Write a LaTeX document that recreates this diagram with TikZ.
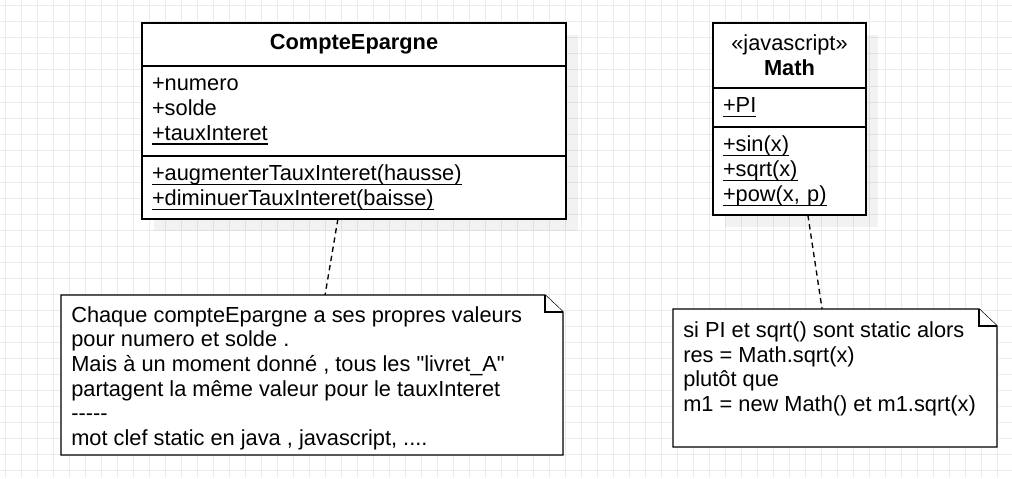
\documentclass[tikz,border=0pt]{standalone}
\usepackage{fontspec}
\newfontfamily\umlfont{Liberation Sans}
\usepackage{xcolor}
\usetikzlibrary{positioning,calc,backgrounds}
\newsavebox{\statbox}
\newcommand{\stat}[1]{\leavevmode\sbox{\statbox}{#1}\rlap{\rule[-3.4pt]{\wd\statbox}{1pt}}\usebox{\statbox}}
\definecolor{gridgray}{HTML}{EBEBEB}
\tikzset{
  umltxt/.style={font=\umlfont\fontsize{16.35pt}{18.75pt}\selectfont},
  classpart/.style={draw=black, line width=1pt, fill=white, umltxt, align=left, inner xsep=7.5pt, inner ysep=0pt, outer sep=0pt, anchor=north west},
  classhead/.style={classpart, align=center},
  notebox/.style={inner sep=0pt, outer sep=0pt, anchor=north west},
  notetext/.style={font=\umlfont\fontsize{16.35pt}{18.4pt}\selectfont, align=left, anchor=north west, inner xsep=7.5pt, inner ysep=8.5pt},
  noteline/.style={draw=black, fill=white, line width=1pt},
  linkdash/.style={line width=1pt, dash pattern=on 4pt off 3pt},
  gridline/.style={draw=gridgray, line width=0.75pt},
  boxshadow/.style={fill=black, fill opacity=0.05}
}

\begin{document}
\begin{tikzpicture}[x=0.75pt, y=-0.75pt]
\useasboundingbox (0,0) rectangle (1012,478);

% class CompteEpargne
\node[classhead, text width=303pt, minimum height=32.25pt] (ce_head) at (142,23) {\textbf{CompteEpargne}};
\node[classpart, text width=303pt, minimum height=67.5pt, below=0pt of ce_head] (ce_attr) {+numero\\+solde\\\stat{+tauxInteret}};
\node[classpart, text width=303pt, minimum height=47.25pt, below=0pt of ce_attr] (ce_meth) {\stat{+augmenterTauxInteret(hausse)}\\\stat{+diminuerTauxInteret(baisse)}};

% class Math
\node[classhead, text width=99.75pt, minimum height=48.75pt] (m_head) at (713,23) {«javascript»\\\textbf{Math}};
\node[classpart, text width=99.75pt, minimum height=29.25pt, below=0pt of m_head] (m_attr) {\stat{+PI}};
\node[classpart, text width=99.75pt, minimum height=66pt, below=0pt of m_attr] (m_meth) {\stat{+sin(x)}\\\stat{+sqrt(x)}\\\stat{+pow(x, p)}};

% notes
\node[notebox, minimum width=376.5pt, minimum height=120pt] (note1) at (61,295) {};
\node[notebox, minimum width=243pt, minimum height=103.5pt] (note2) at (673,309) {};
\foreach \n in {note1,note2} {
  \filldraw[noteline] (\n.north west) -- ([xshift=-13.5pt]\n.north east) -- ([yshift=-12.75pt]\n.north east) -- (\n.south east) -- (\n.south west) -- cycle;
  \draw[noteline] ([xshift=-13.5pt]\n.north east) |- ([yshift=-12.75pt]\n.north east);
}
\node[notetext] (note1_txt) at (note1.north west) {Chaque compteEpargne a ses propres valeurs\\pour numero et solde .\\Mais à un moment donné , tous les "livret\_A"\\partagent la même valeur pour le tauxInteret\\-----\\mot clef static en java , javascript, ....};
\node[notetext, inner ysep=9.5pt] (note2_txt) at (note2.north west) {si PI et sqrt() sont static alors\\res = Math.sqrt(x)\\plutôt que\\m1 = new Math() et m1.sqrt(x)};

% links
\draw[linkdash] ($(ce_meth.south west)!0.462!(ce_meth.south east)$) -- ($(note1.north west)!0.526!(note1.north east)$);
\draw[linkdash] ($(m_meth.south west)!0.62!(m_meth.south east)$) -- ($(note2.north west)!0.46!(note2.north east)$);

\begin{pgfonlayer}{background}
\foreach \gx in {5,21,...,1005} \draw[gridline] (\gx,0) -- (\gx,478);
\foreach \gy in {6,22,...,470} \draw[gridline] (0,\gy) -- (1012,\gy);
\fill[boxshadow] ([shift={(12,12)}]ce_head.north west) rectangle ([shift={(12,12)}]ce_meth.south east);
\fill[boxshadow] ([shift={(12,12)}]m_head.north west) rectangle ([shift={(12,12)}]m_meth.south east);
\end{pgfonlayer}
\end{tikzpicture}
\end{document}
